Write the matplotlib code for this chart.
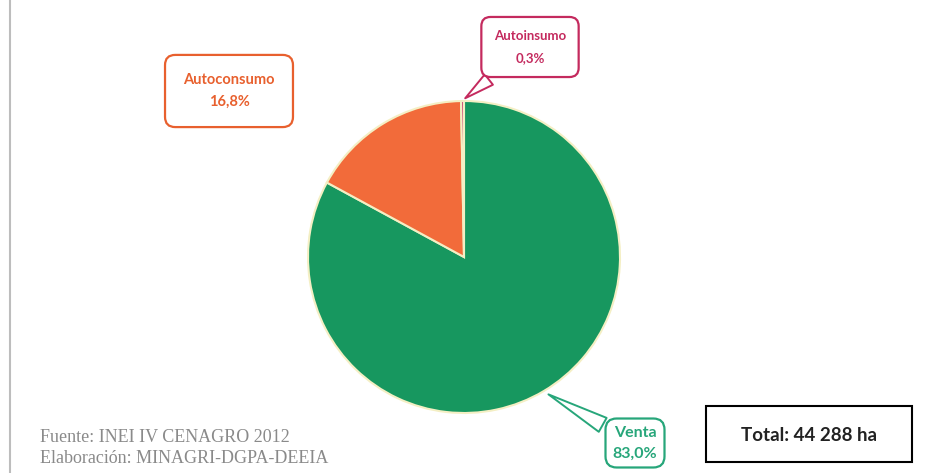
import matplotlib.pyplot as plt
from matplotlib.patches import Rectangle

plt.switch_backend('Agg')
plt.rcParams['font.family'] = ['Lato', 'DejaVu Sans']

# data
labels = ['Venta', 'Autoconsumo', 'Autoinsumo']
shares = [83.0, 16.8, 0.3]
colors = ['#17975f', '#f26b3a', '#c8336d']
text_colors = ['#27a67a', '#e8602e', '#c42a5e']
total_ha = '44 288'
source_lines = ['Fuente: INEI IV CENAGRO 2012', 'Elaboración: MINAGRI-DGPA-DEEIA']

W, H = 934, 473
fig = plt.figure(figsize=(W / 100, H / 100), dpi=100)

# pie axes, placed in pixel units
cx, cy, r = 464, 257, 156
ax_pie = fig.add_axes([(cx - r) / W, (H - cy - r) / H, 2 * r / W, 2 * r / H])
ax_pie.pie(shares, colors=colors, startangle=90, counterclock=False,
           wedgeprops=dict(edgecolor='#f4efc4', linewidth=1.5))
ax_pie.set_xlim(-1, 1)
ax_pie.set_ylim(-1, 1)
ax_pie.set_aspect('equal')
ax_pie.axis('off')

# overlay axes in pixel coords for callouts and notes
ax = fig.add_axes([0, 0, 1, 1], zorder=5)
ax.set_xlim(0, W)
ax.set_ylim(H, 0)
ax.axis('off')
ax.patch.set_alpha(0)

# thin frame line on the left
ax.plot([10, 10], [0, H], color='#bdbdbd', lw=1.5)

# callouts: (text pos, pointer tip, box pad, font size, line spacing)
callouts = [
    ((635, 443), (546, 393), 0.45, 11.5, 1.6),
    ((229, 91), None, 1.25, 10.5, 1.7),
    ((530, 47), (463, 100), 0.95, 9.5, 2.1),
]
for i, lab in enumerate(labels):
    (tx, ty), tip, pad, fs, ls = callouts[i]
    txt = f"{lab}\n{shares[i]:.1f}%".replace('.', ',')
    bbox = dict(boxstyle=f'round,pad={pad},rounding_size=0.7', fc='white',
                ec=text_colors[i], lw=1.6)
    if tip is None:
        ax.text(tx, ty, txt, ha='center', va='center', fontsize=fs,
                fontweight='bold', color=text_colors[i], linespacing=ls,
                bbox=bbox)
    else:
        ax.annotate(txt, xy=tip, xytext=(tx, ty), ha='center', va='center',
                    fontsize=fs, fontweight='bold', color=text_colors[i],
                    linespacing=ls, bbox=bbox,
                    arrowprops=dict(arrowstyle='wedge,tail_width=1.0,shrink_factor=0.5',
                                    fc='white', ec=text_colors[i], lw=1.4))

# total box
ax.add_patch(Rectangle((706, 406), 206, 56, fill=False, ec='black', lw=1.5))
ax.text(809, 435, f"Total: {total_ha} ha", ha='center', va='center',
        fontsize=13.5, fontweight='bold', color='#222222')

# source notes
ax.text(40, 437, source_lines[0], ha='left', va='center', fontsize=13,
        color='#8a8a8a', family='Liberation Serif')
ax.text(40, 458, source_lines[1], ha='left', va='center', fontsize=13,
        color='#8a8a8a', family='Liberation Serif')

fig.savefig('out.png', dpi=100)
plt.close(fig)
